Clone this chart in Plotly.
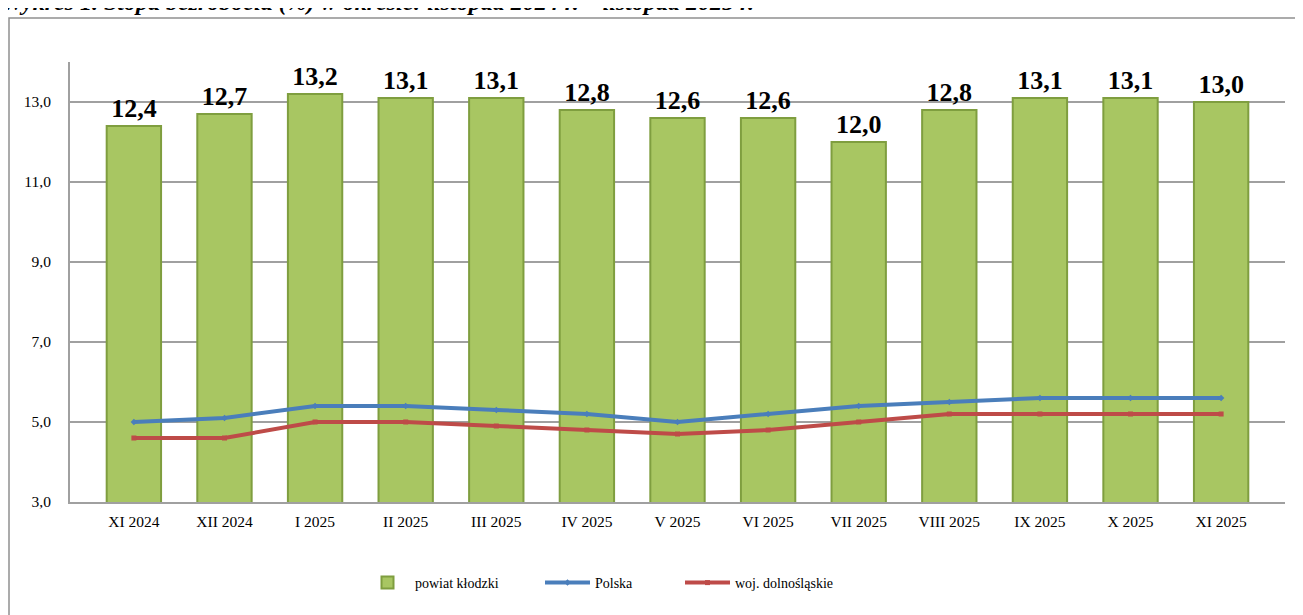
import plotly.graph_objects as go

categories = ["XI 2024", "XII 2024", "I 2025", "II 2025", "III 2025", "IV 2025", "V 2025",
              "VI 2025", "VII 2025", "VIII 2025", "IX 2025", "X 2025", "XI 2025"]
powiat = [12.4, 12.7, 13.2, 13.1, 13.1, 12.8, 12.6, 12.6, 12.0, 12.8, 13.1, 13.1, 13.0]
polska = [5.0, 5.1, 5.4, 5.4, 5.3, 5.2, 5.0, 5.2, 5.4, 5.5, 5.6, 5.6, 5.6]
woj = [4.6, 4.6, 5.0, 5.0, 4.9, 4.8, 4.7, 4.8, 5.0, 5.2, 5.2, 5.2, 5.2]
ytick_vals = [3, 5, 7, 9, 11, 13]
ytick_text = ["3,0", "5,0", "7,0", "9,0", "11,0", "13,0"]

W, H = 1303, 615
OFF = 8  # page body margin
ml, mt = 70 - OFF, 62 - OFF
mr = W - (1285 - OFF)
mb = H - (502 - OFF)
pw, ph = W - ml - mr, H - mt - mb


def px_x(p):
    return (p - OFF - ml) / pw


def px_y(p):
    return (H - mb - (p - OFF)) / ph


tick_font = dict(family="Liberation Serif", size=15.5, color="black")
leg_font = dict(family="Liberation Sans Narrow", size=14, color="black")

fig = go.Figure()
fig.add_trace(go.Bar(
    x=categories, y=powiat, name="powiat kłodzki", legend="legend",
    marker=dict(color="#A8C662", line=dict(color="#7F9E3F", width=2)),
    text=[f"{v:.1f}".replace(".", ",") for v in powiat],
    textposition="outside", cliponaxis=False,
    textfont=dict(family="Liberation Serif", size=26, color="black", weight="bold"),
))
fig.add_trace(go.Scatter(
    x=categories, y=polska, name="Polska", mode="lines+markers", legend="legend2",
    line=dict(color="#4A7EBB", width=4), marker=dict(symbol="diamond", size=5, color="#4A7EBB"),
))
fig.add_trace(go.Scatter(
    x=categories, y=woj, name="woj. dolnośląskie", mode="lines+markers", legend="legend3",
    line=dict(color="#BE4B48", width=4), marker=dict(symbol="square", size=5, color="#BE4B48"),
))

leg_common = dict(orientation="h", xanchor="left", y=px_y(583), yanchor="middle",
                  font=leg_font, itemwidth=45, bgcolor="rgba(0,0,0,0)")

fig.update_layout(
    width=W, height=H,
    margin=dict(l=ml, r=mr, t=mt, b=mb),
    paper_bgcolor="white", plot_bgcolor="white",
    bargap=0.4,
    showlegend=True,
    legend=dict(x=px_x(360), **leg_common),
    legend2=dict(x=px_x(540), **leg_common),
    legend3=dict(x=px_x(680), **leg_common),
    xaxis=dict(showline=True, linecolor="#A0A0A0", linewidth=2, ticks="",
               tickfont=tick_font, fixedrange=True, ticklabelstandoff=4),
    yaxis=dict(range=[3, 14], tickvals=ytick_vals, ticktext=ytick_text,
               showgrid=True, gridcolor="#A0A0A0", gridwidth=1.5,
               showline=True, linecolor="#A0A0A0", linewidth=2,
               zeroline=False, ticks="", ticklabelstandoff=14,
               tickfont=tick_font),
    shapes=[dict(type="rect", xref="paper", yref="paper",
                 x0=px_x(9), x1=px_x(1330), y0=px_y(660), y1=px_y(18),
                 line=dict(color="#909090", width=1.5), fillcolor="rgba(0,0,0,0)", layer="below")],
    annotations=[dict(text="<b><i>Wykres 1. Stopa bezrobocia (%) w okresie: listopad 2024 r. – listopad 2025 r.</i></b>",
                      xref="paper", yref="paper", x=px_x(0), y=px_y(17), xanchor="left", yanchor="bottom",
                      showarrow=False, font=dict(family="Liberation Serif", size=24, color="black"))],
)

fig.write_html("out.html")
